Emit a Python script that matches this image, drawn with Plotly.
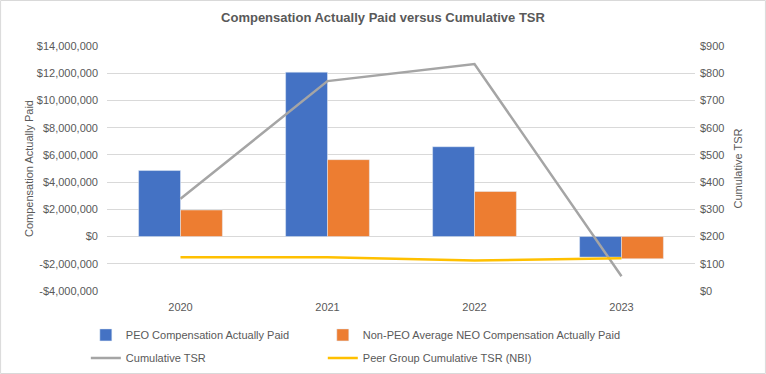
import plotly.graph_objects as go

years = ["2020", "2021", "2022", "2023"]
peo_cap = [4850000, 12080000, 6600000, -1510000]
neo_cap = [1950000, 5650000, 3310000, -1630000]
tsr = [339, 771, 834, 54]
peer_tsr = [124, 124, 112, 120]

left_ticks = list(range(-4000000, 14000001, 2000000))
left_labels = [("-$" if v < 0 else "$") + f"{abs(v):,}" for v in left_ticks]
right_ticks = list(range(0, 901, 100))
right_labels = [f"${v}" for v in right_ticks]

FONT = "Liberation Sans"
GRAY = "#595959"

fig = go.Figure()
fig.add_trace(go.Bar(x=years, y=peo_cap, name="PEO Compensation Actually Paid",
                     marker_color="#4472c4", legend="legend", legendgroup="a", yaxis="y"))
fig.add_trace(go.Bar(x=years, y=neo_cap, name="Non-PEO Average NEO Compensation Actually Paid",
                     marker_color="#ed7d31", legend="legend2", legendgroup="b", yaxis="y"))
fig.add_trace(go.Scatter(x=years, y=tsr, name="Cumulative TSR", mode="lines",
                         line=dict(color="#a5a5a5", width=2.5), legend="legend",
                         legendgroup="c", yaxis="y2"))
fig.add_trace(go.Scatter(x=years, y=peer_tsr, name="Peer Group Cumulative TSR (NBI)", mode="lines",
                         line=dict(color="#ffc000", width=2.5), legend="legend2",
                         legendgroup="d", yaxis="y2"))

fig.update_layout(
    width=766, height=374,
    margin=dict(l=107, r=71, t=46, b=83, autoexpand=False),
    paper_bgcolor="white", plot_bgcolor="white",
    font=dict(family=FONT, size=11, color=GRAY),
    title=dict(text="<b>Compensation Actually Paid versus Cumulative TSR</b>",
               x=0.5, xanchor="center", y=0.953, yanchor="middle",
               font=dict(size=13, color=GRAY, family=FONT)),
    barmode="group", bargap=0.43, bargroupgap=0,
    xaxis=dict(type="category", showgrid=False, showline=False, ticks="",
               tickfont=dict(size=11, color=GRAY), zeroline=False, ticklabelstandoff=8),
    yaxis=dict(range=[-4000000, 14000000], tickvals=left_ticks, ticktext=left_labels,
               showgrid=True, gridcolor="#d9d9d9", gridwidth=1, zeroline=False,
               showline=False, ticks="", ticklabelstandoff=8,
               title=dict(text="Compensation Actually Paid", font=dict(size=11, color=GRAY), standoff=0)),
    yaxis2=dict(range=[0, 900], tickvals=right_ticks, ticktext=right_labels,
                overlaying="y", side="right", showgrid=False, zeroline=False,
                showline=False, ticks="", ticklabelstandoff=4,
                title=dict(text="Cumulative TSR", font=dict(size=11, color=GRAY), standoff=10)),
    legend=dict(x=-0.036, y=-0.12, xanchor="left", yanchor="top", orientation="v",
                bgcolor="rgba(0,0,0,0)", font=dict(size=11, color=GRAY),
                traceorder="grouped", tracegroupgap=4, itemwidth=30),
    legend2=dict(x=0.367, y=-0.12, xanchor="left", yanchor="top", orientation="v",
                 bgcolor="rgba(0,0,0,0)", font=dict(size=11, color=GRAY),
                 traceorder="grouped", tracegroupgap=4, itemwidth=30),
)
fig.add_shape(type="rect", xref="paper", yref="paper",
              x0=-107/588 + 0.001, x1=1 + 71/588 - 0.001,
              y0=-83/245 + 0.002, y1=1 + 46/245 - 0.002,
              line=dict(color="#d9d9d9", width=1), fillcolor="rgba(0,0,0,0)", layer="below")

fig.write_html("out.html", config={"displayModeBar": False},
               post_script="document.body.style.margin='0';document.body.style.overflow='hidden';")
